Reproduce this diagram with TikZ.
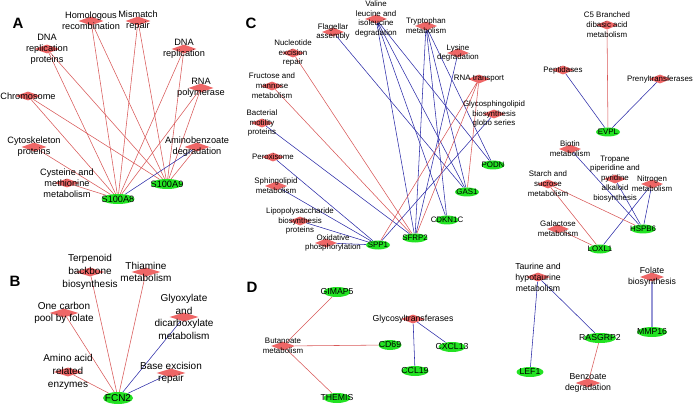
\documentclass[tikz,border=0pt]{standalone}
\usepackage{fontspec}
\setmainfont{Liberation Sans}
\usetikzlibrary{shapes.geometric,backgrounds}

\definecolor{pwfill}{RGB}{238,102,102}
\definecolor{genefill}{RGB}{34,226,34}
\definecolor{redlink}{RGB}{216,88,88}
\definecolor{bluelink}{RGB}{44,44,168}
\definecolor{palelink}{RGB}{150,150,214}

\tikzset{
  pathway/.style={diamond, fill=pwfill, inner sep=0pt, minimum width=#1, minimum height=9pt},
  pathway/.default=25pt,
  gene/.style={ellipse, fill=genefill, inner sep=0pt, minimum width=#1, minimum height=10pt},
  gene/.default=26pt,
  uplink/.style={draw=redlink, line width=0.55pt},
  downlink/.style={draw=bluelink, line width=0.55pt},
  bigtext/.style={font=\fontsize{9.2}{11}\selectfont},
  hugetext/.style={font=\fontsize{10}{12.6}\selectfont},
  midtext/.style={font=\fontsize{8.7}{11}\selectfont},
  smalltext/.style={font=\fontsize{7.9}{9.9}\selectfont},
  panel/.style={font=\fontsize{15}{15}\selectfont\bfseries},
  every label/.style={align=center, inner sep=0pt, text=black}
}

\begin{document}
\begin{tikzpicture}[x=1pt, y=-1pt]
    \useasboundingbox (0,0) rectangle (696,406);

    % panel A
    \node[panel] (pa) at (18,23) {A};
    \node[pathway, label={[bigtext]center:{Homologous\\recombination}}] (homrec) at (91,21) {};
    \node[pathway, label={[bigtext]center:{Mismatch\\repair}}] (mismatch) at (138,21) {};
    \node[pathway, label={[bigtext]center:{DNA\\replication\\proteins}}] (dnaprot) at (47,49) {};
    \node[pathway, label={[bigtext]center:{DNA\\replication}}] (dnarep) at (184,49) {};
    \node[pathway, label={[bigtext]center:{RNA\\polymerase}}] (rnapol) at (201,88) {};
    \node[pathway, label={[bigtext]center:{Chromosome}}] (chromo) at (28,96) {};
    \node[pathway, label={[bigtext]center:{Cytoskeleton\\proteins}}] (cytosk) at (34,147) {};
    \node[pathway, label={[bigtext]center:{Aminobenzoate\\degradation}}] (aminob) at (197,147) {};
    \node[pathway, label={[bigtext]center:{Cysteine and\\methionine\\metabolism}}] (cysmet) at (67,183) {};
    \node[gene=33pt, label={[bigtext]center:S100A8}] (s100a8) at (118,199) {};
    \node[gene=32pt, label={[bigtext]center:S100A9}] (s100a9) at (167,184) {};

    % panel B
    \node[panel] (pb) at (15,281) {B};
    \node[pathway=29pt, label={[hugetext]center:{Terpenoid\\backbone\\biosynthesis}}] (terpen) at (90,272) {};
    \node[pathway=29pt, label={[hugetext]center:{Thiamine\\metabolism}}] (thiam) at (146,272) {};
    \node[pathway=29pt, label={[hugetext]center:{One carbon\\pool by folate}}] (onecarb) at (64,313) {};
    \node[pathway=29pt, label={[hugetext]center:{Glyoxylate\\and\\dicarboxylate\\metabolism}}] (glyox) at (184,317) {};
    \node[pathway=29pt, label={[hugetext]center:{Amino acid\\related\\enzymes}}] (aminoac) at (68,372) {};
    \node[pathway=29pt, label={[hugetext]center:{Base excision\\repair}}] (baseexc) at (171,373) {};
    \node[gene=30pt, minimum height=12pt, label={[hugetext]center:FCN2}] (fcn2) at (118,398) {};

    % panel C
    \node[panel] (pc) at (251,23) {C};
    \node[pathway=22pt, label={[smalltext]center:{Valine\\leucine and\\isoleucine\\degradation}}] (valine) at (376,19) {};
    \node[pathway=22pt, label={[smalltext]center:{Flagellar\\assembly}}] (flagel) at (333,32) {};
    \node[pathway=22pt, label={[smalltext]center:{Tryptophan\\metabolism}}] (trypto) at (426,26) {};
    \node[pathway=22pt, label={[smalltext]center:{Lysine\\degradation}}] (lysine) at (458,53) {};
    \node[pathway=22pt, label={[smalltext]center:{Nucleotide\\excision\\repair}}] (nucexc) at (293,53) {};
    \node[pathway=22pt, label={[smalltext]center:{Fructose and\\mannose\\metabolism}}] (fructo) at (272,86) {};
    \node[pathway=22pt, label={[smalltext]center:{RNA transport}}] (rnatr) at (479,79) {};
    \node[pathway=22pt, label={[smalltext]center:{Glycosphingolipid\\biosynthesis\\globo series}}] (glycos) at (494,114) {};
    \node[pathway=22pt, label={[smalltext]center:{Bacterial\\motility\\proteins}}] (bactmot) at (262,123) {};
    \node[pathway=22pt, label={[smalltext]center:{Peroxisome}}] (peroxi) at (273,157) {};
    \node[pathway=22pt, label={[smalltext]center:{Sphingolipid\\metabolism}}] (sphingo) at (276,186) {};
    \node[pathway=22pt, label={[smalltext]center:{Lipopolysaccharide\\biosynthesis\\proteins}}] (lipopol) at (300,221) {};
    \node[pathway=22pt, label={[smalltext, xshift=7pt]center:{Oxidative\\phosphorylation}}] (oxphos) at (326,243) {};
    \node[gene=23pt, minimum height=9pt, label={[smalltext]center:PODN}] (podn) at (493,165) {};
    \node[gene=24pt, minimum height=9pt, label={[smalltext]center:GAS1}] (gas1) at (467,192) {};
    \node[gene=23pt, minimum height=9pt, label={[smalltext]center:CDKN1C}] (cdkn1c) at (447,220) {};
    \node[gene=25pt, minimum height=9pt, label={[smalltext]center:SFRP2}] (sfrp2) at (415,238) {};
    \node[gene=24pt, minimum height=9pt, label={[smalltext]center:SPP1}] (spp1) at (378,245) {};

    % top right
    \node[pathway=22pt, label={[smalltext]center:{C5 Branched\\dibasic acid\\metabolism}}] (cfive) at (607,25) {};
    \node[pathway=22pt, label={[smalltext]center:{Peptidases}}] (peptid) at (563,70) {};
    \node[pathway=22pt, label={[smalltext]center:{Prenyltransferases}}] (prenyl) at (660,79) {};
    \node[gene=24pt, minimum height=9pt, label={[smalltext]center:EVPL}] (evpl) at (608,132) {};

    \node[pathway=22pt, label={[smalltext]center:{Biotin\\metabolism}}] (biotin) at (570,149) {};
    \node[pathway=22pt, label={[smalltext]center:{Tropane\\piperidine and\\pyridine\\alkaloid\\biosynthesis}}] (tropane) at (615,179) {};
    \node[pathway=22pt, label={[smalltext]center:{Nitrogen\\metabolism}}] (nitro) at (652,184) {};
    \node[pathway=22pt, label={[smalltext]center:{Starch and\\sucrose\\metabolism}}] (starch) at (548,184) {};
    \node[pathway=22pt, label={[smalltext]center:{Galactose\\metabolism}}] (galact) at (558,229) {};
    \node[gene=25pt, minimum height=9pt, label={[smalltext]center:HSPB6}] (hspb6) at (643,229) {};
    \node[gene=23pt, minimum height=9pt, label={[smalltext]center:LOXL1}] (loxl1) at (600,249) {};

    % panel D
    \node[panel] (pd) at (252,287) {D};
    \node[gene=27pt, label={[midtext]center:GIMAP5}] (gimap5) at (337,292) {};
    \node[pathway=24pt, label={[midtext]center:{Glycosyltransferases}}] (glytra) at (413,319) {};
    \node[pathway=24pt, label={[smalltext]center:{Butanoate\\metabolism}}] (butan) at (283,346) {};
    \node[gene=23pt, label={[midtext]center:CD69}] (cd69) at (390,345) {};
    \node[gene=27pt, label={[midtext]center:CXCL13}] (cxcl13) at (452,347) {};
    \node[gene=27pt, label={[midtext]center:CCL19}] (ccl19) at (415,371) {};
    \node[gene=27pt, label={[midtext]center:THEMIS}] (themis) at (337,398) {};

    \node[pathway=24pt, label={[midtext]center:{Taurine and\\hypotaurine\\metabolism}}] (taurine) at (538,277) {};
    \node[pathway=24pt, label={[midtext]center:{Folate\\biosynthesis}}] (folate) at (652,277) {};
    \node[gene=30pt, label={[midtext]center:MMP16}] (mmp16) at (652,332) {};
    \node[gene=32pt, label={[midtext]center:RASGRP2}] (rasgrp2) at (600,338) {};
    \node[gene=27pt, label={[midtext]center:LEF1}] (lef1) at (530,372) {};
    \node[pathway=25pt, label={[midtext]center:{Benzoate\\degradation}}] (benzo) at (588,383) {};

    \begin{pgfonlayer}{background}
        % A
        \foreach \p in {homrec, mismatch, dnaprot, dnarep, rnapol, chromo}
            \draw[uplink] (\p) -- (s100a8) (\p) -- (s100a9);
        \draw[uplink] (cytosk) -- (s100a8);
        \draw[uplink] (cysmet) -- (s100a8);
        \draw[uplink] (aminob) -- (s100a9);
        \draw[downlink] (aminob) -- (s100a8);
        % B
        \foreach \p in {terpen, thiam, onecarb, aminoac}
            \draw[uplink] (\p) -- (fcn2);
        \draw[downlink] (glyox) -- (fcn2);
        \draw[downlink] (baseexc) -- (fcn2);
        % C
        \foreach \p in {valine, trypto}
            \draw[downlink] (\p) -- (sfrp2) (\p) -- (cdkn1c) (\p) -- (gas1) (\p) -- (podn);
        \draw[downlink] (flagel) -- (gas1);
        \draw[downlink] (lysine) -- (sfrp2);
        \draw[downlink] (bactmot) -- (sfrp2);
        \draw[downlink] (glycos) -- (spp1);
        \foreach \p in {peroxi, sphingo, lipopol, oxphos}
            \draw[downlink] (\p) -- (spp1);
        \draw[uplink] (nucexc) -- (sfrp2);
        \draw[uplink] (fructo) -- (sfrp2);
        \draw[uplink] (rnatr) -- (spp1) (rnatr) -- (sfrp2) (rnatr) -- (gas1);
        % right
        \draw[uplink] (cfive) -- (evpl);
        \draw[downlink] (peptid) -- (evpl);
        \draw[downlink] (prenyl) -- (evpl);
        \draw[downlink] (biotin) -- (hspb6);
        \draw[downlink] (tropane) -- (hspb6);
        \draw[downlink] (nitro) -- (hspb6) (nitro) -- (loxl1);
        \draw[uplink] (starch) -- (hspb6) (starch) -- (loxl1);
        \draw[uplink] (galact) -- (loxl1);
        % D
        \draw[uplink] (gimap5) -- (butan);
        \draw[uplink] (butan) -- (cd69);
        \draw[uplink] (butan) -- (themis);
        \draw[downlink] (glytra) -- (ccl19);
        \draw[downlink] (glytra) -- (cxcl13);
        \draw[downlink] (taurine) -- (lef1);
        \draw[downlink] (taurine) -- (rasgrp2);
        \draw[uplink] (rasgrp2) -- (benzo);
        \draw[palelink, line width=1.6pt] (folate) -- (mmp16);
    \end{pgfonlayer}
\end{tikzpicture}
\end{document}
